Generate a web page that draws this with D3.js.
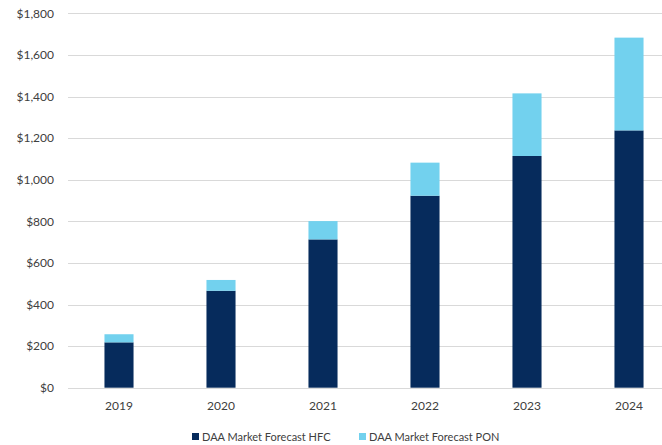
<!DOCTYPE html>
<html>
<head>
<meta charset="utf-8">
<script src="https://cdn.jsdelivr.net/npm/d3@7"></script>
<style>
  body { margin: 0; background: #fff; }
  text { font-family: Lato, "Open Sans", sans-serif; fill: #404040; }
</style>
</head>
<body>
<div id="chart"></div>
<script>
// chart data
var years = ["2019", "2020", "2021", "2022", "2023", "2024"];
var hfcValues = [218, 466, 713, 923, 1114, 1237];
var ponValues = [39, 52, 88, 159, 301, 446];
var yTicks = [0, 200, 400, 600, 800, 1000, 1200, 1400, 1600, 1800];
var seriesNames = ["DAA Market Forecast HFC", "DAA Market Forecast PON"];
var seriesColors = ["#062b5c", "#72d1ee"];

var svgWidth = 662;
var svgHeight = 445;

var svg = d3.select("#chart")
  .append("svg")
  .attr("width", svgWidth)
  .attr("height", svgHeight);

// scales
var xScale = d3.scaleBand()
  .domain(years)
  .range([68, 680])
  .paddingInner(0.715)
  .paddingOuter(0.3575);

var yScale = d3.scaleLinear()
  .domain([0, 1800])
  .range([387.7, 13.3]);

// gridlines
svg.append("g")
  .selectAll("line")
  .data(yTicks)
  .enter()
  .append("line")
  .attr("x1", 68)
  .attr("x2", 662)
  .attr("y1", d => Math.round(yScale(d)) + 0.5)
  .attr("y2", d => Math.round(yScale(d)) + 0.5)
  .attr("stroke", "#d9d9d9")
  .attr("stroke-width", 1);

// y axis labels
var leftAxis = d3.axisLeft(yScale)
  .tickValues(yTicks)
  .tickFormat(d => "$" + d3.format(",")(d))
  .tickSize(0)
  .tickPadding(0);

var yAxis = svg.append("g")
  .attr("transform", "translate(54,0)")
  .call(leftAxis);
yAxis.select(".domain").remove();
yAxis.selectAll("text")
  .attr("font-size", "12px")
  .style("font-family", "Lato, 'Open Sans', sans-serif")
  .attr("fill", "#404040");

// stacked bars
var stackData = years.map(function(y, i) {
  return { year: y, hfc: hfcValues[i], pon: ponValues[i] };
});
var stacked = d3.stack().keys(["hfc", "pon"])(stackData);

svg.append("g")
  .selectAll("g")
  .data(stacked)
  .enter()
  .append("g")
  .attr("fill", (d, i) => seriesColors[i])
  .selectAll("rect")
  .data(d => d)
  .enter()
  .append("rect")
  .attr("x", d => xScale(d.data.year))
  .attr("width", xScale.bandwidth())
  .attr("y", d => yScale(d[1]))
  .attr("height", d => yScale(d[0]) - yScale(d[1]));

// x axis labels
var bottomAxis = d3.axisBottom(xScale).tickSize(0).tickPadding(0);
var xAxis = svg.append("g")
  .attr("transform", "translate(0,401)")
  .call(bottomAxis);
xAxis.select(".domain").remove();
xAxis.selectAll("text")
  .attr("font-size", "12px")
  .style("font-family", "Lato, 'Open Sans', sans-serif")
  .attr("fill", "#404040");

// legend
var legendX = [192, 359];
var legend = svg.append("g")
  .selectAll("g")
  .data(seriesNames)
  .enter()
  .append("g")
  .attr("transform", (d, i) => `translate(${legendX[i]}, 437)`);

legend.append("rect")
  .attr("x", 0)
  .attr("y", -4)
  .attr("width", 7)
  .attr("height", 7)
  .attr("fill", (d, i) => seriesColors[i]);

legend.append("text")
  .attr("x", 10)
  .attr("y", 0)
  .attr("dy", "0.35em")
  .attr("font-size", "11px")
  .text(d => d);
</script>
</body>
</html>
